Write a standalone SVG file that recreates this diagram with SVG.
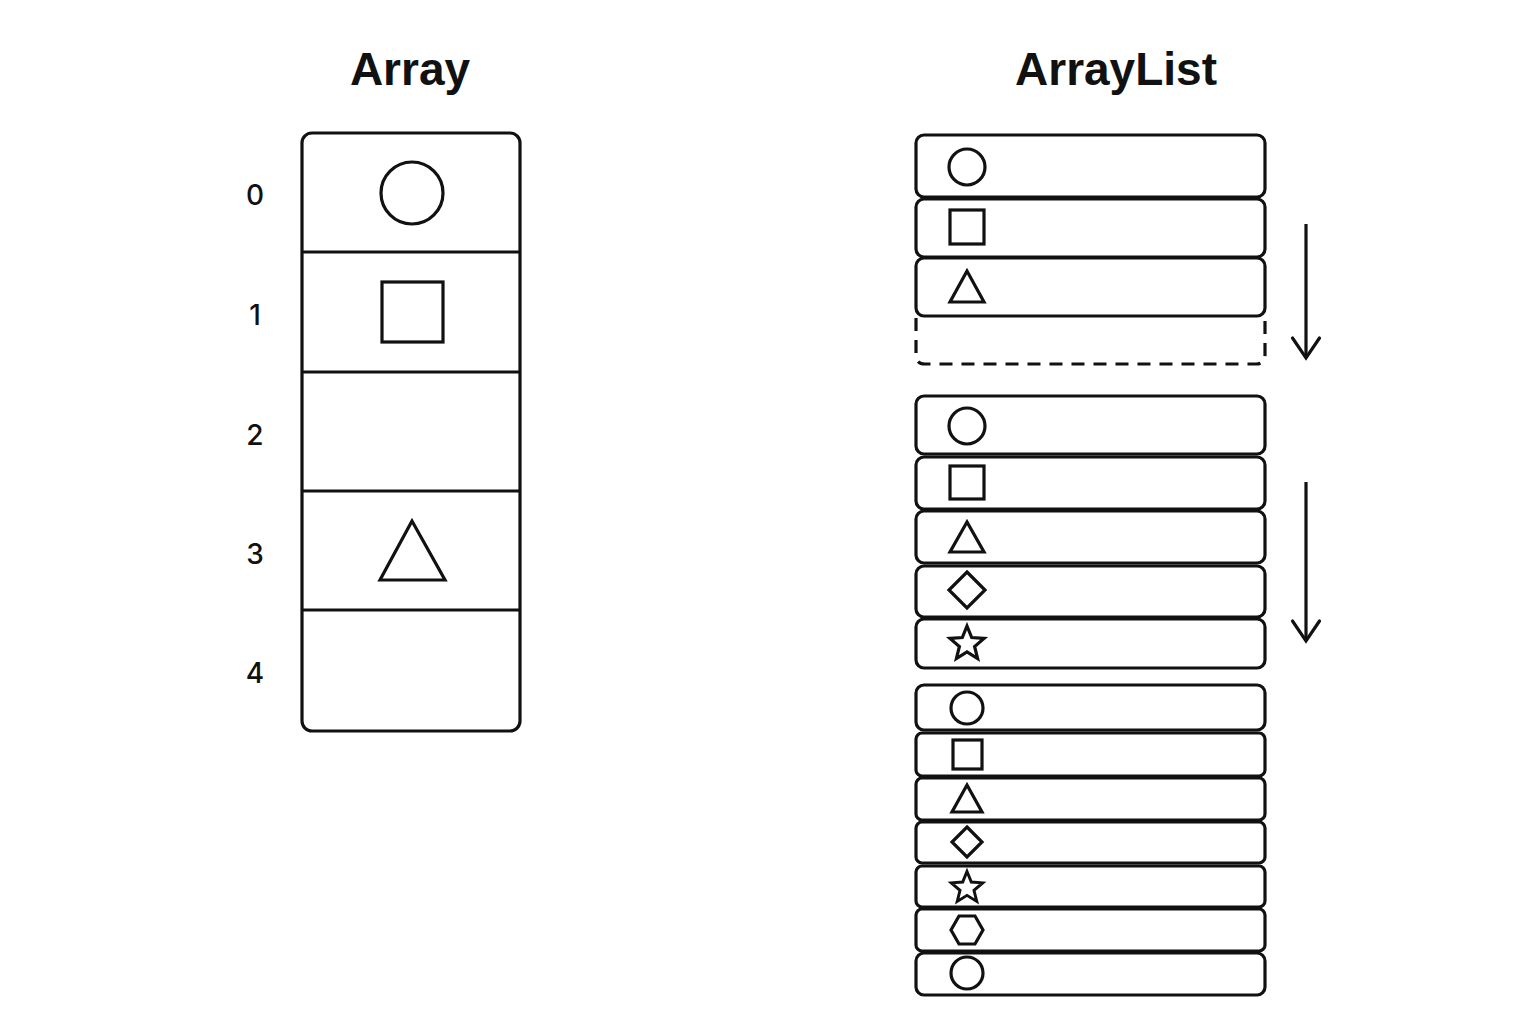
<svg xmlns="http://www.w3.org/2000/svg" width="1536" height="1024" viewBox="0 0 1536 1024">
<style>
.title{font-family:"Liberation Sans",Arial,sans-serif;font-weight:bold;font-size:46px;fill:#111;text-anchor:middle}
.idx{font-family:Inter,"Liberation Sans",Arial,sans-serif;font-weight:500;font-size:28px;fill:#111;text-anchor:middle}
.box{fill:#fff;stroke:#111;stroke-width:3.2}
.ln{fill:none;stroke:#111;stroke-width:3.2}
.sh{fill:none;stroke:#111;stroke-width:3.2;stroke-linejoin:miter}
.dash{fill:none;stroke:#111;stroke-width:3.2;stroke-dasharray:13 9}
.arr{fill:none;stroke:#111;stroke-width:3.2;marker-end:url(#vhead)}
</style>
<defs>
<marker id="vhead" markerUnits="userSpaceOnUse" viewBox="-24 -16 28 32" markerWidth="28" markerHeight="32" refX="0" refY="0" orient="auto" overflow="visible">
<path d="M-20,-13.5 L0,0 L-20,13.5" fill="none" stroke="#111" stroke-width="3.2" stroke-linecap="round" stroke-linejoin="miter"/>
</marker>
<polygon id="star" points="0,-18 4.7,-6.5 17.1,-5.6 7.6,2.5 10.6,14.6 0,8 -10.6,14.6 -7.6,2.5 -17.1,-5.6 -4.7,-6.5"/>
</defs>
<rect width="1536" height="1024" fill="#fff"/>

<g id="title-array"><text class="title" x="410" y="85">Array</text></g>
<g id="title-arraylist"><text class="title" x="1116" y="85">ArrayList</text></g>

<g id="array">
<rect class="box" x="302" y="133" width="218" height="598" rx="10"/>
<line class="ln" x1="302" y1="252" x2="520" y2="252"/>
<line class="ln" x1="302" y1="372" x2="520" y2="372"/>
<line class="ln" x1="302" y1="491" x2="520" y2="491"/>
<line class="ln" x1="302" y1="610" x2="520" y2="610"/>
<circle class="sh" cx="412" cy="193" r="31"/>
<rect class="sh" x="382" y="282" width="61" height="60"/>
<polygon class="sh" points="412,521 380,580 445,580"/>
</g>
<g id="array-index">
<text class="idx" x="255" y="205">0</text>
<text class="idx" x="255" y="325">1</text>
<text class="idx" x="255" y="445">2</text>
<text class="idx" x="255" y="564">3</text>
<text class="idx" x="255" y="683">4</text>
</g>

<g id="list-1">
<rect class="box" x="916" y="135" width="349" height="62" rx="8"/>
<rect class="box" x="916" y="199" width="349" height="58" rx="8"/>
<rect class="box" x="916" y="258" width="349" height="58" rx="8"/>
<path class="dash" d="M916,318 V355 Q916,364 925,364 H1256 Q1265,364 1265,355 V318"/>
<circle class="sh" cx="967" cy="167" r="18"/>
<rect class="sh" x="950" y="210" width="34" height="34"/>
<polygon class="sh" points="967,271 950,302 984,302"/>
</g>

<g id="list-2">
<rect class="box" x="916" y="396" width="349" height="58" rx="8"/>
<rect class="box" x="916" y="457" width="349" height="52" rx="8"/>
<rect class="box" x="916" y="511" width="349" height="52" rx="8"/>
<rect class="box" x="916" y="566" width="349" height="51" rx="8"/>
<rect class="box" x="916" y="619" width="349" height="49" rx="8"/>
<circle class="sh" cx="967" cy="426" r="18"/>
<rect class="sh" x="950" y="466" width="34" height="33"/>
<polygon class="sh" points="967,522 950,552 984,552"/>
<polygon class="sh" points="967,572 985,590 967,608 949,590"/>
<use href="#star" class="sh" transform="translate(967,644)"/>
</g>

<g id="list-3">
<rect class="box" x="916" y="685" width="349" height="45" rx="8"/>
<rect class="box" x="916" y="733" width="349" height="43" rx="6"/>
<rect class="box" x="916" y="778" width="349" height="42" rx="6"/>
<rect class="box" x="916" y="822" width="349" height="41" rx="6"/>
<rect class="box" x="916" y="866" width="349" height="41" rx="6"/>
<rect class="box" x="916" y="909" width="349" height="42" rx="6"/>
<rect class="box" x="916" y="953" width="349" height="42" rx="8"/>
<circle class="sh" cx="967" cy="708" r="16"/>
<rect class="sh" x="953" y="740" width="29" height="29"/>
<polygon class="sh" points="967,785 952,812 982,812"/>
<polygon class="sh" points="967,827 982,842 967,857 952,842"/>
<use href="#star" class="sh" transform="translate(967,888) scale(0.92)"/>
<polygon class="sh" points="951,930 959,916 975,916 983,930 975,944 959,944"/>
<circle class="sh" cx="967" cy="973" r="16"/>
</g>

<g id="connectors">
<line class="arr" x1="1306" y1="224" x2="1306" y2="358"/>
<line class="arr" x1="1306" y1="482" x2="1306" y2="641"/>
</g>
</svg>
